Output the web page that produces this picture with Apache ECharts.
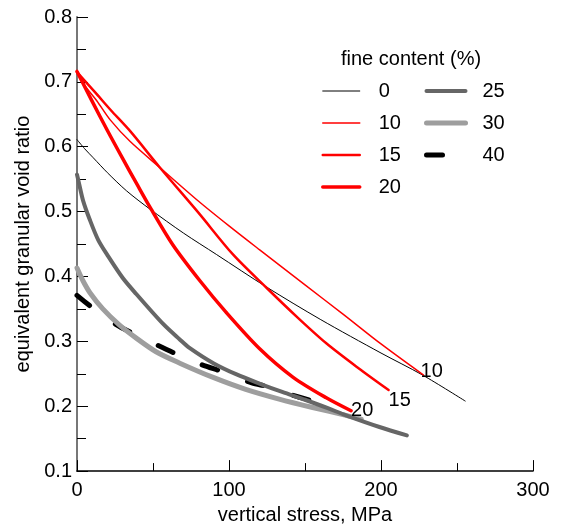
<!DOCTYPE html>
<html>
<head>
<meta charset="utf-8">
<script src="https://cdn.jsdelivr.net/npm/echarts@6/dist/echarts.min.js"></script>
<style>
html,body{margin:0;padding:0;background:#fff;}
#chart{width:562px;height:530px;}
</style>
</head>
<body>
<div id="chart"></div>
<script>
// fine content (%) series: [vertical stress (MPa), equivalent granular void ratio]
const fc0  = [[0,0.611],[5,0.597],[10.7,0.583],[20,0.560],[32.6,0.532],[47.9,0.504],[70,0.467],[91.7,0.434],[124.5,0.384],[160,0.334],[200,0.282],[227.4,0.248],[255.4,0.208]];
const fc10 = [[0,0.718],[5,0.695],[13,0.671],[22,0.641],[35,0.608],[54.5,0.568],[80,0.516],[100,0.478],[120.2,0.441],[150,0.387],[175,0.342],[200,0.296],[228,0.248]];
const fc15 = [[0,0.715],[13,0.681],[22,0.657],[35,0.624],[54.5,0.568],[80,0.498],[102.6,0.434],[124.5,0.383],[145,0.337],[164,0.297],[185,0.259],[205,0.225]];
const fc20 = [[0,0.716],[10,0.670],[20,0.625],[30,0.582],[40,0.540],[48,0.507],[63,0.449],[81,0.393],[98,0.345],[120,0.289],[142,0.245],[164,0.213],[180.3,0.193]];
const fc25 = [[0,0.557],[1,0.547],[4,0.517],[8.5,0.487],[14,0.456],[20,0.433],[30,0.398],[39,0.373],[57,0.326],[67.6,0.303],[74,0.290],[90,0.266],[105,0.249],[120,0.235],[135,0.222],[150,0.210],[165,0.197],[177,0.186],[199,0.168],[217,0.155]];
const fc30 = [[0,0.413],[4,0.393],[8.5,0.375],[17,0.350],[28,0.325],[39,0.305],[52,0.284],[68,0.266],[90,0.244],[111,0.226],[133,0.211],[155,0.198],[177,0.186],[187,0.180]];
const fc40 = [[0,0.371],[10,0.352],[25,0.327],[37,0.312],[53,0.294],[65,0.281],[82,0.264],[96,0.253],[115,0.236],[126,0.230],[142,0.217],[157,0.207]];

const seriesNames = ['0','10','15','20','25','30','40'];
const endLabels = {'10':'10','15':'15','20':'20'};
const xTicks = [0,100,200,300];
const yTicks = [0.1,0.2,0.3,0.4,0.5,0.6,0.7,0.8];

const FONT = '"Liberation Sans", Arial, sans-serif';
const FS = 20;
const styles = {
  '0':  {color:'#000000', width:1},
  '10': {color:'#ff0000', width:1.5},
  '15': {color:'#ff0000', width:2.5},
  '20': {color:'#ff0000', width:3.5},
  '25': {color:'#666666', width:4},
  '30': {color:'#9e9e9e', width:5},
  '40': {color:'#000000', width:5, type:[16,32]}
};
const dataMap = {'0':fc0,'10':fc10,'15':fc15,'20':fc20,'25':fc25,'30':fc30,'40':fc40};
const labelOffsets = {'10':[-3,-4],'15':[0,10],'20':[0,0]};

// drawing order (later on top)
const drawOrder = ['40','30','25','0','10','15','20'];
const series = drawOrder.map(n => {
  const st = styles[n];
  const s = {
    name: n, type: 'line', data: dataMap[n], smooth: 0.3,
    symbol: 'none', showSymbol: false, animation: false,
    lineStyle: {color: st.color, width: st.width, type: st.type || 'solid', cap: 'round', join: 'round'},
    itemStyle: {color: st.color}
  };
  if (endLabels[n]) {
    s.endLabel = {show: true, formatter: endLabels[n], distance: 0, offset: labelOffsets[n],
      color: '#000', fontFamily: FONT, fontSize: FS};
  }
  return s;
});

const legendItem = n => ({
  name: n,
  itemStyle: {color: 'rgba(0,0,0,0)', borderColor: 'rgba(0,0,0,0)', borderWidth: 0, opacity: 0},
  lineStyle: {color: styles[n].color, width: styles[n].width, type: styles[n].type || 'solid', cap: 'round', opacity: 1}
});

const chart = echarts.init(document.getElementById('chart'), null, {renderer: 'canvas'});
chart.setOption({
  animation: false,
  backgroundColor: '#fff',
  title: {text: 'fine content (%)', left: 341, top: 49, padding: 0,
    textStyle: {fontFamily: FONT, fontSize: FS, fontWeight: 'normal', color: '#000'}},
  legend: [
    {orient: 'vertical', left: 321, top: 81, padding: 0, itemWidth: 37, itemHeight: 14, itemGap: 12,
     data: ['0','10','15','20'].map(legendItem),
     textStyle: {fontFamily: FONT, fontSize: FS, color: '#000', lineHeight: 20, padding: [0,0,0,14]}},
    {orient: 'vertical', left: 424, top: 81, padding: 0, itemWidth: 39, itemHeight: 14, itemGap: 12,
     data: ['25','30','40'].map(legendItem),
     textStyle: {fontFamily: FONT, fontSize: FS, color: '#000', lineHeight: 20, padding: [0,0,0,12]}}
  ],
  grid: {left: 77, right: 29, top: 17, bottom: 52, containLabel: false},
  xAxis: {
    type: 'value', min: 0, max: 300, interval: 100,
    name: 'vertical stress, MPa', nameLocation: 'middle', nameGap: 32,
    nameTextStyle: {fontFamily: FONT, fontSize: FS, color: '#000'},
    axisLine: {lineStyle: {color: '#000', width: 1.5}},
    axisTick: {inside: true, length: 11, lineStyle: {color: '#000', width: 1}},
    minorTick: {show: true, splitNumber: 2, length: 8, lineStyle: {color: '#000', width: 1}},
    axisLabel: {fontFamily: FONT, fontSize: FS, color: '#000', margin: 9,
      formatter: v => xTicks.includes(v) ? String(v) : ''},
    splitLine: {show: false}
  },
  yAxis: {
    type: 'value', min: 0.1, max: 0.8, interval: 0.1,
    name: 'equivalent granular void ratio', nameLocation: 'middle', nameGap: 42,
    nameTextStyle: {fontFamily: FONT, fontSize: FS, color: '#000'},
    axisLine: {lineStyle: {color: '#777', width: 2}},
    axisTick: {inside: true, length: 11, lineStyle: {color: '#000', width: 1}},
    minorTick: {show: true, splitNumber: 2, length: 9, lineStyle: {color: '#000', width: 1}},
    axisLabel: {fontFamily: FONT, fontSize: FS, color: '#000', margin: 5,
      formatter: v => {const r = Math.round(v*10)/10; return yTicks.includes(r) ? r.toFixed(1) : '';}},
    splitLine: {show: false}
  },
  series: series
});
</script>
</body>
</html>
